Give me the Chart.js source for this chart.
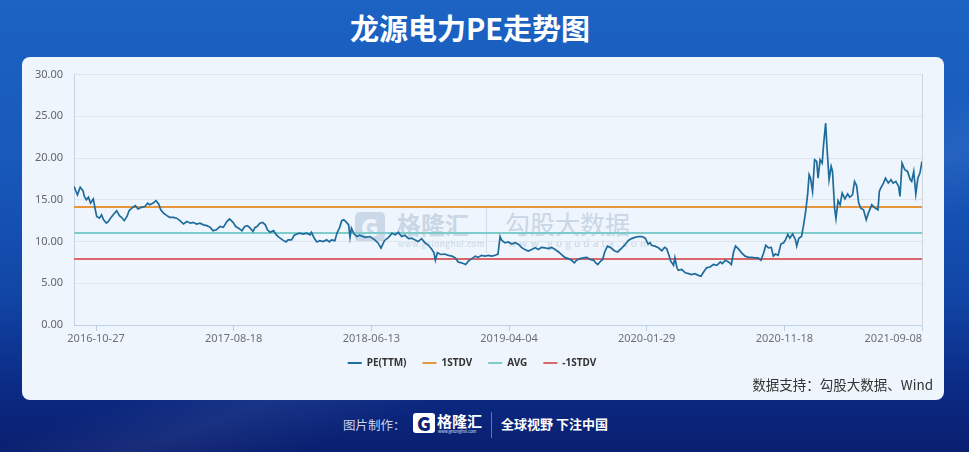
<!DOCTYPE html>
<html>
<head>
<meta charset="utf-8">
<script src="https://cdn.jsdelivr.net/npm/chart.js@4.4.1/dist/chart.umd.min.js"></script>
<style>
  body {
    margin: 0; width: 969px; height: 452px; overflow: hidden; position: relative;
    background: linear-gradient(180deg, #1c63c3 0%, #1859bb 35%, #1146a6 65%, #0b2b85 85%, #0a1f70 100%);
    font-family: "Noto Sans CJK SC", "Noto Sans", sans-serif;
  }
  .streak {
    position: absolute; left: 0; top: 0; width: 969px; height: 452px;
    background: linear-gradient(160deg, rgba(255,255,255,0) 55%, rgba(255,255,255,0.06) 62%, rgba(255,255,255,0) 70%);
  }
  #title {
    position: absolute; left: 0; top: 12px; width: 940px; text-align: center;
    color: #fff; font-size: 29px; font-weight: 700; line-height: 30px;
  }
  #panel {
    position: absolute; left: 22px; top: 57px; width: 922px; height: 343px;
    background: #eef5fc; border-radius: 8px;
  }
  .wm { position: absolute; color: #c9d6e6; white-space: nowrap; }
  #chartWrap { position: absolute; left: 22px; top: 57px; width: 922px; height: 343px; }
  #source {
    position: absolute; right: 36px; top: 374px; font-size: 13.5px; color: #333; line-height: 20px;
  }
  #footer { position: absolute; left: 0; top: 412px; width: 969px; height: 26px; }
  #footer span { position: absolute; white-space: nowrap; }
</style>
</head>
<body>
<div class="streak"></div>
<div id="title">龙源电力PE走势图</div>
<div id="panel"></div>

<!-- watermark -->
<div class="wm" style="left:355px;top:212px;width:30px;height:30px;background:#cbd8e8;border-radius:5px;"></div>
<div class="wm" style="left:361px;top:212px;font-size:24px;font-weight:900;line-height:30px;color:#eef5fc;">G</div>
<div class="wm" style="left:397px;top:209px;font-size:24px;font-weight:700;line-height:30px;">格隆汇</div>
<div class="wm" style="left:398px;top:239px;font-size:8px;line-height:10px;letter-spacing:0.6px;">www.gelonghui.com</div>
<div class="wm" style="left:486px;top:207px;width:1px;height:46px;background:#d3deeb;"></div>
<div class="wm" style="left:505px;top:208px;font-size:25px;line-height:30px;">勾股大数据</div>
<div class="wm" style="left:508px;top:237px;font-size:10px;line-height:12px;letter-spacing:3.2px;">www.gogudata.com</div>

<div id="chartWrap"><canvas id="peChart" width="922" height="343"></canvas></div>
<div id="source">数据支持：勾股大数据、Wind</div>

<div id="footer">
  <span style="left:343px;top:3px;font-size:12.5px;color:#c9d4ee;">图片制作：</span>
  <span style="left:413px;top:1px;width:22px;height:20px;background:#fff;border-radius:3px;"></span>
  <span style="left:417px;top:-3px;font-size:19px;font-weight:900;color:#0b2373;">G</span>
  <span style="left:437px;top:0px;font-size:15px;font-weight:700;color:#fff;line-height:18px;">格隆汇</span>
  <span style="left:438px;top:17px;font-size:4px;color:#dfe6f5;line-height:5px;">www.gelonghui.com</span>
  <span style="left:491px;top:0px;width:1px;height:26px;background:#5d75b5;"></span>
  <span style="left:501px;top:2px;font-size:13px;font-weight:700;color:#fff;">全球视野 下注中国</span>
</div>

<script>
// x positions are trading-day indices counted from the first sample
const lastDay = 1232;
const xTickDays = [32, 232, 432, 632, 832, 1032, 1232];
const xTickLabels = ['2016-10-27', '2017-08-18', '2018-06-13', '2019-04-04', '2020-01-29', '2020-11-18', '2021-09-08'];

const peDays = [
  0, 2, 5, 9, 13, 15, 18, 21, 24, 28, 31, 33, 37, 40, 43, 47, 50, 53, 57, 62, 66,
  69, 73, 77, 80, 84, 89, 93, 98, 103, 107, 110, 115, 119, 123, 126, 130, 135, 139, 144, 149,
  154, 159, 164, 169, 173, 178, 183, 188, 193, 198, 202, 207, 212, 217, 222, 226, 231, 235, 239, 244,
  248, 252, 256, 260, 263, 266, 270, 274, 278, 281, 285, 290, 294, 298, 303, 308, 311, 316, 320, 324,
  328, 333, 338, 343, 345, 349, 353, 357, 362, 367, 371, 374, 379, 382, 386, 389, 392, 396, 399, 401,
  403, 407, 411, 415,
  423, 430, 437, 442, 446, 451, 457, 462, 467, 471, 476, 481, 486, 491, 495, 500, 505, 510, 515, 520,
  523, 525, 528, 533, 538, 544, 549, 554, 558, 563, 569, 573, 578, 583, 587, 592, 597, 602, 607, 612,
  616, 619, 621, 626, 631, 636, 641, 646, 650, 655, 660, 665, 670, 675, 679, 684, 689, 694, 699, 704,
  708, 713, 718, 723, 727, 730, 735, 740, 745, 750, 755, 758, 761, 764, 768, 771, 775, 780, 785, 790,
  796, 801, 805, 810, 815, 820, 825, 830, 834, 837,
  839, 844, 849, 854, 858, 861, 864, 867, 871, 873, 876, 878, 883, 888, 893, 897, 902, 907, 911, 914,
  919, 924, 929, 934, 939, 942, 946, 951, 955, 958, 961, 965, 970, 975, 980, 985, 989, 994, 998, 1002,
  1005, 1009, 1013, 1016, 1019, 1023, 1027, 1031, 1034, 1037, 1040, 1044, 1048, 1050, 1053, 1057, 1060, 1063, 1066, 1068,
  1070, 1073, 1076, 1079, 1081, 1084, 1087, 1089, 1092, 1094, 1097, 1100, 1102, 1105, 1107, 1110, 1113, 1116, 1120, 1124,
  1127, 1131, 1134, 1137, 1140, 1143, 1147, 1151, 1154, 1159, 1164, 1168, 1170, 1172, 1176, 1179, 1183, 1187, 1190, 1194,
  1198, 1200, 1203, 1207, 1211, 1215, 1217, 1220, 1223, 1226, 1229, 1232
];

const peValues = [
  16.6, 16.2, 15.6, 16.5, 16.1, 15.4, 15.0, 15.3, 14.6, 15.1, 13.8, 13.0, 12.8, 13.2, 12.6, 12.2, 12.4, 12.8, 13.2, 13.7, 13.1,
  12.9, 12.5, 13.0, 13.7, 14.0, 14.3, 13.9, 14.1, 14.2, 14.6, 14.4, 14.6, 14.9, 14.5, 13.8, 13.4, 13.1, 12.9, 12.9, 12.8,
  12.5, 12.1, 12.4, 12.2, 12.3, 12.1, 12.2, 12.0, 11.9, 11.7, 11.3, 11.4, 11.8, 11.7, 12.4, 12.7, 12.3, 11.8, 11.6, 11.3,
  11.8, 11.9, 11.6, 11.2, 11.7, 11.8, 12.2, 12.3, 12.0, 11.4, 11.1, 11.3, 10.8, 10.5, 10.2, 9.95, 10.2, 10.2, 10.75, 10.9,
  11.0, 10.9, 11.0, 10.8, 11.1, 10.4, 9.95, 10.1, 10.0, 10.2, 9.95, 10.2, 10.1, 11.0, 11.7, 12.5, 12.6, 12.3, 12.0, 10.5,
  11.6, 10.9, 10.6, 10.75,
  10.5, 10.6, 10.2, 9.8, 9.2, 10.1, 10.5, 11.0, 10.8, 11.1, 10.6, 10.75, 10.35, 10.4, 10.2, 10.0, 10.35, 9.85, 9.55, 9.05,
  8.65, 7.75, 8.65, 8.45, 8.5, 8.35, 8.25, 8.05, 7.55, 7.45, 7.25, 7.65, 7.95, 8.25, 8.1, 8.35, 8.25, 8.35, 8.25, 8.35,
  8.5, 10.6, 10.2, 9.85, 9.95, 9.7, 9.85, 9.65, 9.3, 9.05, 8.85, 9.05, 9.25, 9.05, 9.3, 9.25, 9.15, 9.3, 9.05, 8.75,
  8.45, 8.1, 7.95, 7.75, 7.45, 7.75, 7.95, 8.05, 8.1, 7.85, 7.75, 7.45, 7.25, 7.55, 7.85, 8.75, 9.45, 9.25, 8.9, 8.75,
  9.25, 9.65, 10.1, 10.35, 10.5, 10.6, 10.6, 10.4, 9.7, 9.85,
  9.55, 9.45, 9.25, 8.9, 9.3, 9.15, 8.45, 7.65, 7.15, 8.05, 6.85, 6.55, 6.65, 6.25, 6.15, 6.05, 6.15, 5.95, 5.85, 6.25,
  6.85, 6.95, 7.25, 7.15, 7.55, 7.35, 7.75, 7.55, 7.25, 8.65, 9.45, 9.15, 8.65, 8.25, 8.1, 8.1, 8.05, 8.05, 7.75, 8.65,
  9.55, 9.25, 9.3, 8.25, 8.5, 8.35, 9.7, 9.85, 10.25, 10.85, 10.4, 10.9, 10.25, 9.45, 10.4, 10.6, 12.0, 13.6, 15.8, 18.0,
  17.6, 16.0, 19.8, 19.6, 17.6, 19.8, 19.4, 21.6, 24.2, 21.2, 17.4, 19.0, 18.4, 14.0, 12.75, 14.9, 14.4, 15.8, 15.1, 15.7,
  15.3, 15.6, 17.2, 16.7, 14.6, 14.0, 13.8, 12.6, 13.4, 14.4, 14.0, 13.8, 16.0, 16.4, 17.0, 17.6, 17.0, 17.4, 17.0, 17.2,
  16.6, 15.4, 19.4, 18.6, 18.4, 17.4, 17.2, 18.4, 15.7, 17.6, 18.2, 19.6
];

const stdUp = 14.14;
const avgPe = 11.03;
const stdDown = 7.92;

function flatLine(value) {
  return [{ x: 0, y: value }, { x: lastDay, y: value }];
}

function lineDataset(label, data, color, width) {
  return {
    label: label,
    data: data,
    borderColor: color,
    backgroundColor: color,
    borderWidth: width,
    pointRadius: 0,
    tension: 0,
  };
}

// x labels drawn by hand so the last one can be right aligned like the original
const xLabelPlugin = {
  id: 'xLabels',
  afterDraw(chart) {
    const ctx = chart.ctx;
    const xs = chart.scales.x;
    ctx.save();
    ctx.font = '11px "Noto Sans", sans-serif';
    ctx.fillStyle = '#6e7079';
    ctx.textBaseline = 'middle';
    xTickDays.forEach((d, i) => {
      ctx.textAlign = i === xTickDays.length - 1 ? 'right' : 'center';
      ctx.fillText(xTickLabels[i], xs.getPixelForValue(d), xs.top + 14);
    });
    ctx.restore();
  }
};

Chart.defaults.font.family = '"Noto Sans", "Noto Sans CJK SC", sans-serif';

const pePoints = peDays.map((d, i) => ({ x: d, y: peValues[i] }));

new Chart(document.getElementById('peChart'), {
  type: 'line',
  data: {
    datasets: [
      lineDataset('PE(TTM)', pePoints, '#1f6b9c', 1.7),
      lineDataset('1STDV', flatLine(stdUp), '#e8963c', 2),
      lineDataset('AVG', flatLine(avgPe), '#7ecbcb', 2),
      lineDataset('-1STDV', flatLine(stdDown), '#d9676b', 2),
    ]
  },
  options: {
    responsive: false,
    animation: false,
    devicePixelRatio: 1,
    layout: { padding: { top: 15.5, right: 22, bottom: 22, left: 0 } },
    scales: {
      x: {
        type: 'linear',
        min: 0,
        max: lastDay,
        afterBuildTicks: scale => { scale.ticks = xTickDays.map(v => ({ value: v })); },
        ticks: { display: false },
        grid: { drawOnChartArea: false, drawTicks: true, tickLength: 6, color: '#bcd0ec' },
        border: { color: '#bcd0ec' },
        afterFit: scale => { scale.height = 17; }
      },
      y: {
        min: 0,
        max: 30,
        ticks: {
          stepSize: 5,
          padding: 11,
          color: '#62656e',
          font: { size: 11 },
          callback: v => v.toFixed(2)
        },
        grid: { color: '#dfe5ec', drawTicks: false },
        border: { color: '#c3d3e8' },
        afterFit: scale => { scale.width = 52; }
      },
      y2: {
        position: 'right',
        min: 0,
        max: 30,
        ticks: { display: false },
        grid: { drawOnChartArea: false, drawTicks: false },
        border: { color: '#cfd6de' },
        afterFit: scale => { scale.width = 0; }
      }
    },
    plugins: {
      legend: {
        position: 'bottom',
        labels: {
          boxWidth: 14,
          boxHeight: 2,
          padding: 16,
          color: '#333',
          font: { size: 10, weight: 'bold' },
          generateLabels: chart => Chart.defaults.plugins.legend.labels.generateLabels(chart)
            .map(item => ({ ...item, lineWidth: 0, fillStyle: item.strokeStyle }))
        }
      },
      tooltip: { enabled: false }
    }
  },
  plugins: [xLabelPlugin]
});
</script>
</body>
</html>
